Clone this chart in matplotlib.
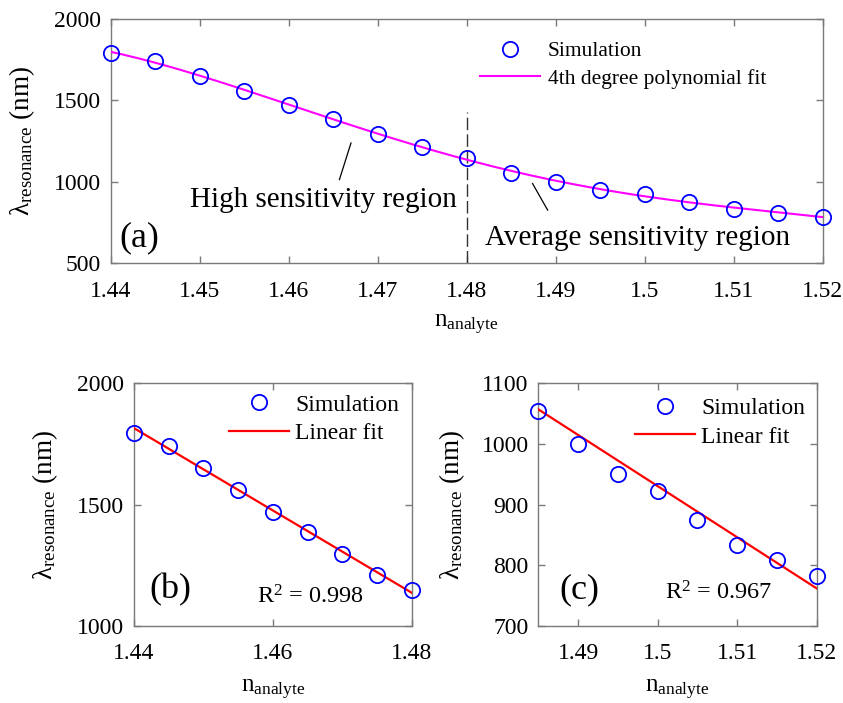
import numpy as np
import matplotlib
matplotlib.use('Agg')
import matplotlib.pyplot as plt

# ---- data ----
n_analyte = [1.44, 1.445, 1.45, 1.455, 1.46, 1.465, 1.47, 1.475, 1.48,
             1.485, 1.49, 1.495, 1.5, 1.505, 1.51, 1.515, 1.52]
wl_sim = [1795, 1743, 1652, 1560, 1471, 1388, 1295, 1212, 1148,
          1054, 1000, 951, 922, 874, 833, 809, 783]

# linear fit lines as drawn in panels (b) and (c) (end points)
fit_b_x = [1.44, 1.48]
fit_b_y = [1815, 1137]
fit_c_x = [1.485, 1.52]
fit_c_y = [1057, 762]

xticks_a = [1.44, 1.45, 1.46, 1.47, 1.48, 1.49, 1.50, 1.51, 1.52]
xticklabels_a = ['1.44', '1.45', '1.46', '1.47', '1.48', '1.49', '1.5', '1.51', '1.52']
yticks_a = [500, 1000, 1500, 2000]
xticks_b = [1.44, 1.46, 1.48]
xticklabels_b = ['1.44', '1.46', '1.48']
yticks_b = [1000, 1500, 2000]
xticks_c = [1.49, 1.50, 1.51, 1.52]
xticklabels_c = ['1.49', '1.5', '1.51', '1.52']
yticks_c = [700, 800, 900, 1000, 1100]

split_n = 1.48
split_top = 1430

plt.rcParams['font.family'] = ['Liberation Serif', 'DejaVu Serif']
plt.rcParams['mathtext.fontset'] = 'custom'
plt.rcParams['mathtext.rm'] = 'Liberation Serif'
plt.rcParams['mathtext.it'] = 'Liberation Serif:italic'

fig = plt.figure(figsize=(8.43, 7.03), dpi=100)
axA = fig.add_axes([0.1313, 0.6263, 0.8446, 0.3462])
axB = fig.add_axes([0.159, 0.1095, 0.3294, 0.3453])
axC = fig.add_axes([0.6386, 0.1095, 0.3302, 0.3453])

GRAY = '#7a7a7a'


def style(ax, xpad):
    for s in ax.spines.values():
        s.set_color(GRAY)
        s.set_linewidth(1.0)
    ax.tick_params(direction='in', top=True, right=True, length=5, width=1,
                   color=GRAY, labelcolor='black', labelsize=17, pad=7)
    ax.tick_params(axis='x', pad=xpad)


x = np.array(n_analyte)
y = np.array(wl_sim)

# ---- panel (a) ----
coef = np.polyfit(x, y, 4)
xf = np.linspace(x.min(), x.max(), 300)
axA.plot(x, y, 'o', ms=11, mfc='none', mec='blue', mew=1.3, clip_on=False,
         label='Simulation', zorder=4)
axA.plot(xf, np.polyval(coef, xf), '-', color='#ff00ff', lw=1.5,
         label='4th degree polynomial fit', zorder=3)
axA.plot([split_n, split_n], [500, split_top], color='#333333', lw=1.0,
         ls=(0, (9, 3)), zorder=2)
axA.plot([1.4657, 1.467], [1012, 1238], color='black', lw=0.9)
axA.plot([1.4874, 1.4891], [988, 824], color='black', lw=0.9)
axA.text(1.4639, 889, 'High sensitivity region', fontsize=21, ha='center', va='center')
axA.text(1.4992, 654, 'Average sensitivity region', fontsize=21, ha='center', va='center')
axA.text(1.4432, 652, '(a)', fontsize=26, ha='center', va='center')
axA.set_xlim(1.44, 1.52)
axA.set_ylim(500, 2000)
axA.set_xticks(xticks_a)
axA.set_xticklabels(xticklabels_a)
axA.set_yticks(yticks_a)
style(axA, 13.5)
axA.set_xlabel(r'$\mathregular{n_{analyte}}$', fontsize=18)
axA.set_ylabel(r'$\mathregular{λ_{resonance}}$ (nm)', fontsize=19.5)
axA.xaxis.set_label_coords(0.5, -0.205)
axA.yaxis.set_label_coords(-0.1035, 0.5)
axA.legend(loc='upper left', bbox_to_anchor=(0.5187, 0.91), frameon=False,
           fontsize=15.5, handlelength=2.8, handletextpad=0.35, labelspacing=0.35,
           borderpad=0, borderaxespad=0)

# ---- panel (b) ----
nb = 9
axB.plot(x[:nb], y[:nb], 'o', ms=11, mfc='none', mec='blue', mew=1.3,
         clip_on=False, label='Simulation', zorder=4)
axB.plot(fit_b_x, fit_b_y, '-', color='red', lw=1.6, label='Linear fit', zorder=3)
axB.text(1.4654, 1119, r'R$^{2}$ = 0.998', fontsize=17.5, ha='center', va='center')
axB.text(1.4452, 1148, '(b)', fontsize=26, ha='center', va='center')
axB.set_xlim(1.44, 1.48)
axB.set_ylim(1000, 2000)
axB.set_xticks(xticks_b)
axB.set_xticklabels(xticklabels_b)
axB.set_yticks(yticks_b)
style(axB, 12.5)
axB.set_xlabel(r'$\mathregular{n_{analyte}}$', fontsize=18)
axB.set_ylabel(r'$\mathregular{λ_{resonance}}$ (nm)', fontsize=19.5)
axB.xaxis.set_label_coords(0.5, -0.212)
axB.yaxis.set_label_coords(-0.266, 0.5)
axB.legend(loc='upper left', bbox_to_anchor=(0.342, 0.955), frameon=False,
           fontsize=17, handlelength=2.55, handletextpad=0.25, labelspacing=0.28,
           borderpad=0, borderaxespad=0)

# ---- panel (c) ----
axC.plot(x[nb:], y[nb:], 'o', ms=11, mfc='none', mec='blue', mew=1.3,
         clip_on=False, label='Simulation', zorder=4)
axC.plot(fit_c_x, fit_c_y, '-', color='red', lw=1.6, label='Linear fit', zorder=3)
axC.text(1.5077, 754, r'R$^{2}$ = 0.967', fontsize=17.5, ha='center', va='center')
axC.text(1.4901, 759, '(c)', fontsize=26, ha='center', va='center')
axC.set_xlim(1.485, 1.52)
axC.set_ylim(700, 1100)
axC.set_xticks(xticks_c)
axC.set_xticklabels(xticklabels_c)
axC.set_yticks(yticks_c)
style(axC, 12.5)
axC.set_xlabel(r'$\mathregular{n_{analyte}}$', fontsize=18)
axC.set_ylabel(r'$\mathregular{λ_{resonance}}$ (nm)', fontsize=19.5)
axC.xaxis.set_label_coords(0.5, -0.212)
axC.yaxis.set_label_coords(-0.256, 0.5)
axC.legend(loc='upper left', bbox_to_anchor=(0.347, 0.94), frameon=False,
           fontsize=17, handlelength=2.55, handletextpad=0.25, labelspacing=0.28,
           borderpad=0, borderaxespad=0)

fig.savefig('out.png', dpi=100)
